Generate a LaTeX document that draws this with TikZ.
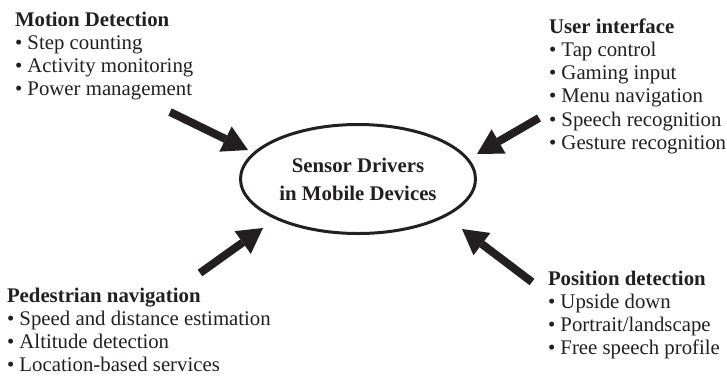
\documentclass[tikz,border=0pt]{standalone}
\usepackage{fontspec}
\setmainfont{Liberation Serif}
\usetikzlibrary{shapes.geometric,arrows.meta}
\definecolor{ink}{HTML}{231F20}
\begin{document}
\begin{tikzpicture}[x=1pt,y=-1pt,
  block/.style={anchor=base west,inner sep=0pt,outer sep=0pt,text=ink,
    font=\fontsize{20.8}{23.3}\selectfont},
  core/.style={draw=ink,ellipse,line width=3pt,minimum width=235pt,minimum height=109pt,inner sep=0pt},
  bigarrow/.style={draw=ink,line width=8pt,-{Triangle[length=25pt,width=28pt,line width=0pt]}}
]
\useasboundingbox (0,0) rectangle (727,378);

\node[core] (c) at (358,179) {};
\node[block,anchor=base] (ct) at (358,172)
  {\fontsize{20.8}{28}\selectfont\begin{tabular}[t]{@{}c@{}}\textbf{Sensor Drivers}\\\textbf{in Mobile Devices}\end{tabular}};

\node[block] (md) at (15,26) {\begin{tabular}[t]{@{}l@{}}\textbf{Motion Detection}\\
• Step counting\\• Activity monitoring\\• Power management\end{tabular}};

\node[block] (ui) at (549,33) {\begin{tabular}[t]{@{}l@{}}\textbf{User interface}\\
• Tap control\\• Gaming input\\• Menu navigation\\• Speech recognition\\• Gesture recognition\end{tabular}};

\node[block] (pn) at (7,302) {\begin{tabular}[t]{@{}l@{}}\textbf{Pedestrian navigation}\\
• Speed and distance estimation\\• Altitude detection\\• Location-based services\end{tabular}};

\node[block] (pd) at (548,285) {\begin{tabular}[t]{@{}l@{}}\textbf{Position detection}\\
• Upside down\\• Portrait/landscape\\• Free speech profile\end{tabular}};

\coordinate (s1) at (170,112); \coordinate (e1) at (248,150);
\coordinate (s2) at (539,118); \coordinate (e2) at (477,154);
\coordinate (s3) at (200,273); \coordinate (e3) at (263,228);
\coordinate (s4) at (532,282); \coordinate (e4) at (462,229);

\draw[bigarrow] (s1) -- (e1);
\draw[bigarrow] (s2) -- (e2);
\draw[bigarrow] (s3) -- (e3);
\draw[bigarrow] (s4) -- (e4);
\end{tikzpicture}
\end{document}
